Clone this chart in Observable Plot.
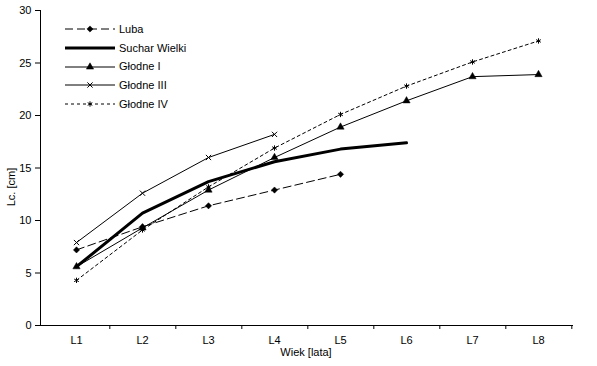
<!DOCTYPE html>
<html><head><meta charset="utf-8">
<script src="https://cdn.jsdelivr.net/npm/d3@7"></script>
<script src="https://cdn.jsdelivr.net/npm/@observablehq/plot@0.6"></script>
<style>
body{margin:0;background:#fff;}
#wrap{position:relative;width:597px;height:366px;font-family:"Liberation Sans",Arial,sans-serif;font-size:11px;color:#000;}
#legend{position:absolute;left:65px;top:20px;}
.row{display:flex;align-items:center;height:18.7px;}
.row span{margin-left:4px;line-height:11px;}
#ylab{position:absolute;left:11px;top:187px;transform:translate(-50%,-50%) rotate(-90deg);white-space:nowrap;}
#xlab{position:absolute;left:306px;top:352px;transform:translate(-50%,-50%);white-space:nowrap;}
</style></head><body><div id="wrap"><div id="plot"></div><div id="legend"></div><div id="ylab">Lc. [cm]</div><div id="xlab">Wiek [lata]</div></div>
<script>
const categories = ["L1","L2","L3","L4","L5","L6","L7","L8"];
const seriesNames = ["Luba","Suchar Wielki","Głodne I","Głodne III","Głodne IV"];
const luba = [7.2, 9.4, 11.4, 12.9, 14.4];
const sucharWielki = [5.6, 10.7, 13.7, 15.6, 16.8, 17.4];
const glodneI = [5.6, 9.3, 12.9, 16.0, 18.9, 21.4, 23.7, 23.9];
const glodneIII = [7.9, 12.6, 16.0, 18.2];
const glodneIV = [4.3, 9.1, 13.2, 16.9, 20.1, 22.8, 25.1, 27.1];
const yTicks = [0, 5, 10, 15, 20, 25, 30];

const values = [luba, sucharWielki, glodneI, glodneIII, glodneIV];
const styles = [
  {strokeWidth: 1, dash: "8,4", symbol: "diamond2", fill: true, r: 2.8},
  {strokeWidth: 3, dash: null, symbol: null},
  {strokeWidth: 1, dash: null, symbol: "triangle", fill: true, r: 2.7},
  {strokeWidth: 1, dash: null, symbol: "times", fill: false, r: 2.5},
  {strokeWidth: 1, dash: "3,3", symbol: "asterisk", fill: false, r: 2.5}
];

const W = 597, H = 366, mL = 40, mR = 24, mT = 10, mB = 41;
const step = (W - mL - mR) / categories.length;

const marks = [
  Plot.ruleY([0], {stroke: "black"}),
  Plot.frame({anchor: "left", stroke: "black"}),
  Plot.axisY({ticks: yTicks, tickSize: 5, tickPadding: 4, label: null}),
  Plot.axisX({tickSize: 0, tickPadding: 11, label: null}),
  Plot.axisX({ticks: categories, tickSize: 4, dx: step / 2, tickFormat: () => "", label: null})
];

seriesNames.forEach((name, i) => {
  const data = values[i].map((v, j) => ({cat: categories[j], value: v, series: name}));
  const s = styles[i];
  marks.push(Plot.lineY(data, {x: "cat", y: "value", stroke: "black", strokeWidth: s.strokeWidth, strokeDasharray: s.dash || undefined}));
  if (s.symbol) {
    marks.push(Plot.dot(data, {x: "cat", y: "value", symbol: s.symbol, r: s.r,
      fill: s.fill ? "black" : "none", stroke: "black", strokeWidth: s.fill ? 0.5 : 1}));
  }
});

const chart = Plot.plot({
  width: W, height: H, marginLeft: mL, marginRight: mR, marginTop: mT, marginBottom: mB,
  x: {type: "point", domain: categories, padding: 0.5, label: null},
  y: {domain: [0, 30], label: null},
  style: {fontFamily: '"Liberation Sans", Arial, sans-serif', fontSize: "11px", color: "#000", background: "#fff", overflow: "visible"},
  marks
});
document.getElementById("plot").appendChild(chart);

// legend
const legend = d3.select("#legend");
const symMap = {diamond2: d3.symbolDiamond2, triangle: d3.symbolTriangle, times: d3.symbolTimes, asterisk: d3.symbolAsterisk};
seriesNames.forEach((name, i) => {
  const s = styles[i];
  const row = legend.append("div").attr("class", "row");
  const svg = row.append("svg").attr("width", 50).attr("height", 10);
  svg.append("line").attr("x1", 0).attr("x2", 50).attr("y1", 5).attr("y2", 5)
    .attr("stroke", "black").attr("stroke-width", s.strokeWidth)
    .attr("stroke-dasharray", s.dash);
  if (s.symbol) {
    svg.append("path").attr("transform", "translate(25,5)")
      .attr("d", d3.symbol(symMap[s.symbol], Math.PI * s.r * s.r)())
      .attr("fill", s.fill ? "black" : "white").attr("stroke", "black").attr("stroke-width", s.fill ? 0.5 : 1);
  }
  row.append("span").text(name);
});
</script>
</body></html>
